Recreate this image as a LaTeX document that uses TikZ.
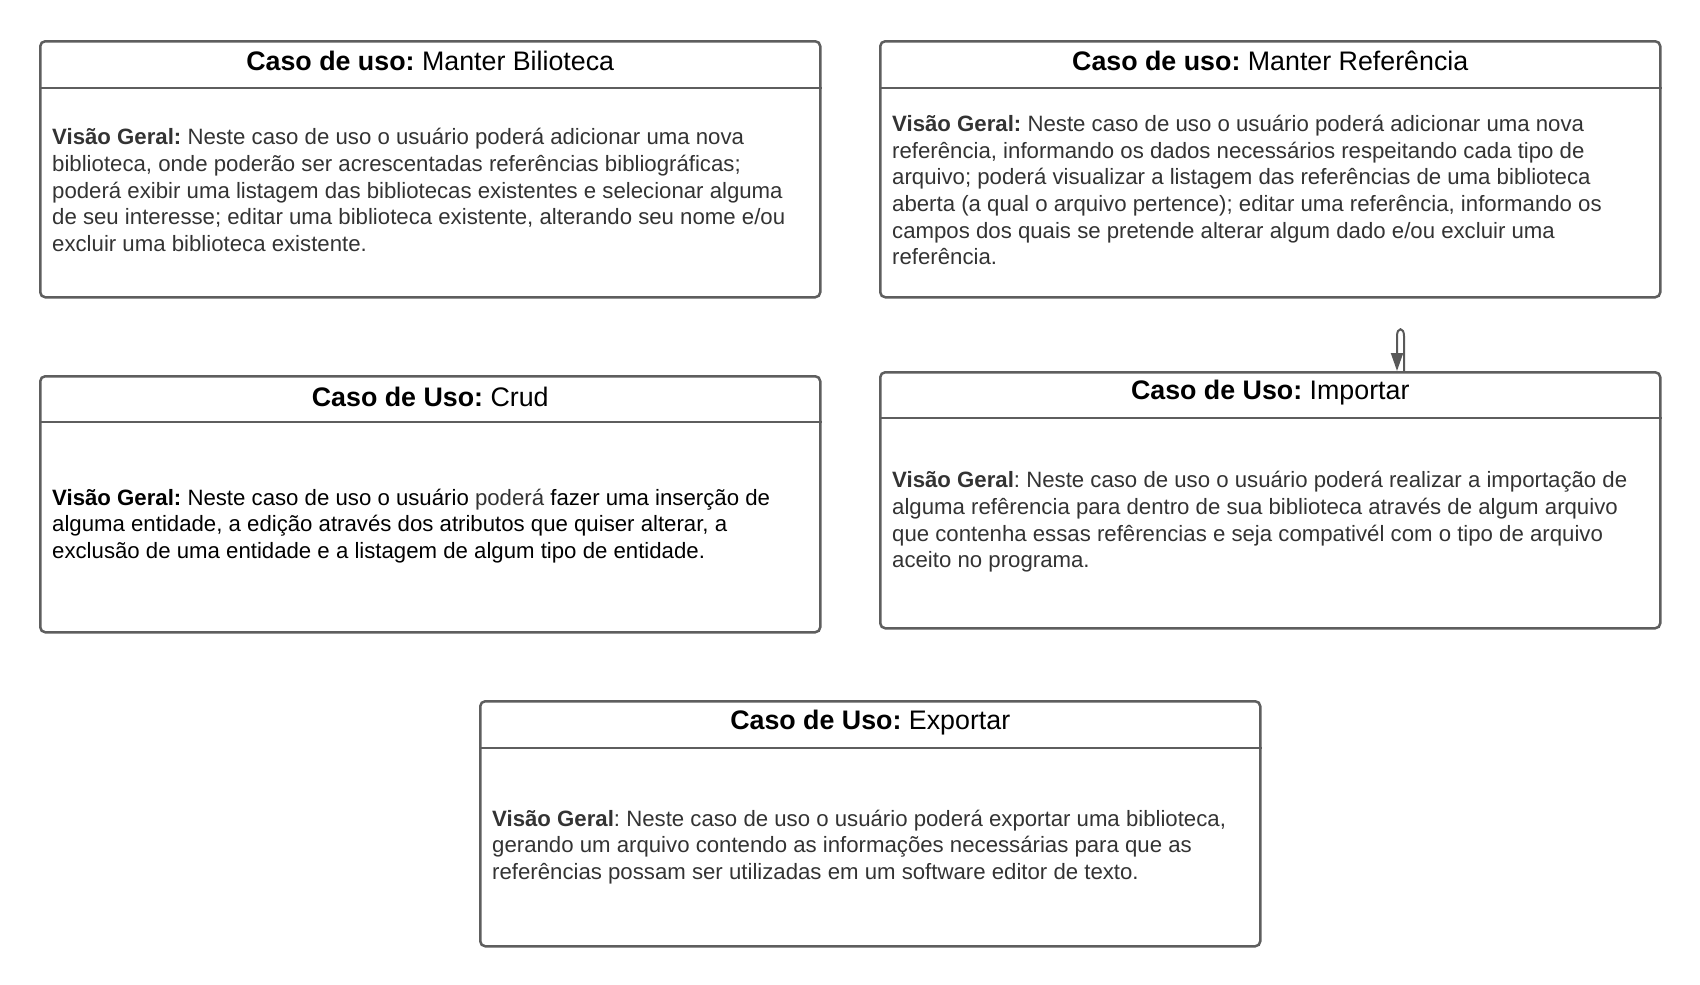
\documentclass[tikz,border=0pt]{standalone}
\usepackage{fontspec}
\setmainfont{Liberation Sans}
\usetikzlibrary{arrows.meta,calc}
\definecolor{bordergray}{HTML}{5E5E5E}
\definecolor{bodytext}{HTML}{333333}
\definecolor{conngray}{HTML}{595959}
\frenchspacing
\begin{document}
\begin{tikzpicture}[x=1pt,y=-1pt,
  ucbox/.style={draw=bordergray, line width=2.5pt, rounded corners=5pt,
    minimum width=780pt, minimum height=256pt, anchor=north west, inner sep=0pt},
  hdrline/.style={draw=bordergray, line width=2.5pt},
  ttl/.style={font=\fontsize{26.8}{32}\selectfont, text=black, anchor=center, inner sep=0pt},
  bodytxt/.style={font=\fontsize{22.2}{26.7}\selectfont, text=bodytext, align=left, anchor=west, inner sep=0pt},
  conn/.style={draw=conngray, line width=2pt, -{Triangle[length=18pt,width=12pt]}},
]
\useasboundingbox (0,0) rectangle (1700,985);

% Box 1: Manter Bilioteca
\node[ucbox] (b1) at (39,40) {};
\draw[hdrline] ($(b1.north west)+(0,48)$) -- ($(b1.north east)+(0,48)$);
\node[ttl] (t1) at ($(b1.north)+(0,21)$) {\textbf{Caso de uso:} Manter Bilioteca};
\node[bodytxt] (d1) at ($(b1.north west)+(13,150)$) {\textbf{Visão Geral:} Neste caso de uso o usuário poderá adicionar uma nova\\
biblioteca, onde poderão ser acrescentadas referências bibliográficas;\\
poderá exibir uma listagem das bibliotecas existentes e selecionar alguma\\
de seu interesse; editar uma biblioteca existente, alterando seu nome e/ou\\
excluir uma biblioteca existente.};

% Box 2: Manter Referencia
\node[ucbox] (b2) at (879,40) {};
\draw[hdrline] ($(b2.north west)+(0,48)$) -- ($(b2.north east)+(0,48)$);
\node[ttl] (t2) at ($(b2.north)+(0,21)$) {\textbf{Caso de uso:} Manter Referência};
\node[bodytxt] (d2) at ($(b2.north west)+(13,150)$) {\textbf{Visão Geral:} Neste caso de uso o usuário poderá adicionar uma nova\\
referência, informando os dados necessários respeitando cada tipo de\\
arquivo; poderá visualizar a listagem das referências de uma biblioteca\\
aberta (a qual o arquivo pertence); editar uma referência, informando os\\
campos dos quais se pretende alterar algum dado e/ou excluir uma\\
referência.};

% Box 3: Crud
\node[ucbox] (b3) at (39,375) {};
\draw[hdrline] ($(b3.north west)+(0,47)$) -- ($(b3.north east)+(0,47)$);
\node[ttl] (t3) at ($(b3.north)+(0,22)$) {\textbf{Caso de Uso:} Crud};
\node[bodytxt, text=black] (d3) at ($(b3.north west)+(13,151)$) {\textbf{Visão Geral:} Neste caso de uso o usuário {\color{bodytext}poderá} fazer uma inserção de\\
alguma entidade, a edição através dos atributos que quiser alterar, a\\
exclusão de uma entidade e a listagem de algum tipo de entidade.};

% Box 4: Importar
\node[ucbox] (b4) at (879,371) {};
\draw[hdrline] ($(b4.north west)+(0,47)$) -- ($(b4.north east)+(0,47)$);
\node[ttl] (t4) at ($(b4.north)+(0,22)$) {\textbf{Caso de Uso:} Importar};
\node[bodytxt] (d4) at ($(b4.north west)+(13,151)$) {\textbf{Visão Geral}: Neste caso de uso o usuário poderá realizar a importação de\\
alguma refêrencia para dentro de sua biblioteca através de algum arquivo\\
que contenha essas refêrencias e seja compativél com o tipo de arquivo\\
aceito no programa.};

% Box 5: Exportar
\node[ucbox, minimum height=245pt] (b5) at (479,700) {};
\draw[hdrline] ($(b5.north west)+(0,48)$) -- ($(b5.north east)+(0,48)$);
\node[ttl] (t5) at ($(b5.north)+(0,23)$) {\textbf{Caso de Uso:} Exportar};
\node[bodytxt] (d5) at ($(b5.north west)+(13,147)$) {\textbf{Visão Geral}: Neste caso de uso o usuário poderá exportar uma biblioteca,\\
gerando um arquivo contendo as informações necessárias para que as\\
referências possam ser utilizadas em um software editor de texto.};

% Self loop on Importar
\coordinate (la) at ($(b4.north west)+(525,0)$);
\coordinate (lb) at ($(b4.north west)+(518,0)$);
\draw[conn] (la) -- ($(la)+(0,-35)$) .. controls ($(la)+(0,-44)$) and ($(lb)+(0,-44)$) .. ($(lb)+(0,-35)$) -- (lb);
\end{tikzpicture}
\end{document}
